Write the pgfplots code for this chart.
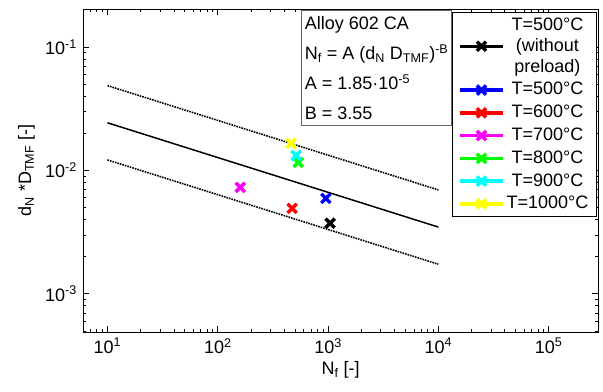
\documentclass[border=0pt]{standalone}
\usepackage{fontspec}
\setmainfont{Liberation Sans}
\usepackage{pgfplots}
\pgfplotsset{compat=1.18}
\definecolor{mblue}{RGB}{0,0,255}
\definecolor{mred}{RGB}{255,0,0}
\definecolor{mmag}{RGB}{255,0,255}
\definecolor{mgreen}{RGB}{0,255,0}
\definecolor{mcyan}{RGB}{0,255,255}
\definecolor{myellow}{RGB}{255,255,0}
\newcommand{\ff}{\fontsize{18}{21}\selectfont}
\begin{document}
\ff
\begin{tikzpicture}
\begin{axis}[
 scale only axis, width=515pt, height=323pt,
 xmode=log, ymode=log, log basis x=10, log basis y=10,
 xmin=6, xmax=2.8e5, ymin=4.9e-4, ymax=0.203,
 xticklabel={10\textsuperscript{\pgfmathparse{int(round(\tick))}\pgfmathresult}},
 yticklabel={10\textsuperscript{\pgfmathparse{int(round(\tick))}\pgfmathresult}},
 tick align=inside,
 major tick length=6pt, minor tick length=3pt,
 every tick/.style={black, line width=0.6pt},
 axis line style={line width=1pt},
 tick label style={font=\ff},
 label style={font=\ff},
 xlabel={N\textsubscript{f} [-]},
 ylabel={d\textsubscript{N} *D\textsubscript{TMF} [-]},
 xlabel style={yshift=4pt},
 ylabel style={yshift=-2pt},
 legend style={at={(rel axis cs:0.7165,0.99)}, anchor=north west, draw=black, line width=0.8pt,
   font=\ff, cells={align=center}, row sep=3.5pt, inner xsep=6pt, inner ysep=3pt},
 legend image code/.code={\draw[#1,line width=3.5pt,mark repeat=2,mark phase=2] plot coordinates {(0cm,0cm)(0.75cm,0cm)(1.5cm,0cm)};},
 every mark/.append style={line width=3.5pt},
]
\addplot[black, line width=1.5pt, forget plot] coordinates {(10,0.0243)(100,0.0127)(1000,0.00664)(10000,0.00347)};
\addplot[black, line width=1.6pt, densely dotted, forget plot] coordinates {(10,0.0486)(100,0.0254)(1000,0.01328)(10000,0.00694)};
\addplot[black, line width=1.6pt, densely dotted, forget plot] coordinates {(10,0.01215)(100,0.00635)(1000,0.00332)(10000,0.001735)};
\addplot[black, mark=x, mark size=6.5pt, line width=3.5pt] coordinates {(1042,0.00373)};
\addlegendentry{T=500°C\\(without\\preload)}
\addplot[mblue, mark=x, mark size=6.5pt, line width=3.5pt] coordinates {(955,0.00593)};
\addlegendentry{T=500°C}
\addplot[mred, mark=x, mark size=6.5pt, line width=3.5pt] coordinates {(472,0.00492)};
\addlegendentry{T=600°C}
\addplot[mmag, mark=x, mark size=6.5pt, line width=3.5pt] coordinates {(160,0.00728)};
\addlegendentry{T=700°C}
\addplot[mgreen, mark=x, mark size=6.5pt, line width=3.5pt] coordinates {(537,0.0116)};
\addlegendentry{T=800°C}
\addplot[mcyan, mark=x, mark size=6.5pt, line width=3.5pt] coordinates {(513,0.0132)};
\addlegendentry{T=900°C}
\addplot[myellow, mark=x, mark size=6.5pt, line width=3.5pt] coordinates {(462,0.01655)};
\addlegendentry{T=1000°C}
\node[draw=gray!80!black, fill=white, anchor=north west, align=left, inner xsep=3pt, inner ysep=6pt,
  line width=0.8pt, font=\fontsize{18}{30}\selectfont]
  at (rel axis cs:0.424,0.997)
  {Alloy 602 CA\\N\textsubscript{f} = A (d\textsubscript{N} D\textsubscript{TMF})\textsuperscript{-B}\\A = 1.85·10\textsuperscript{-5}\\B = 3.55};
\end{axis}
\pgfresetboundingbox
\path ([shift={(-83pt,-59pt)}]current axis.south west) rectangle ([shift={(5pt,9pt)}]current axis.north east);
\end{tikzpicture}
\end{document}
